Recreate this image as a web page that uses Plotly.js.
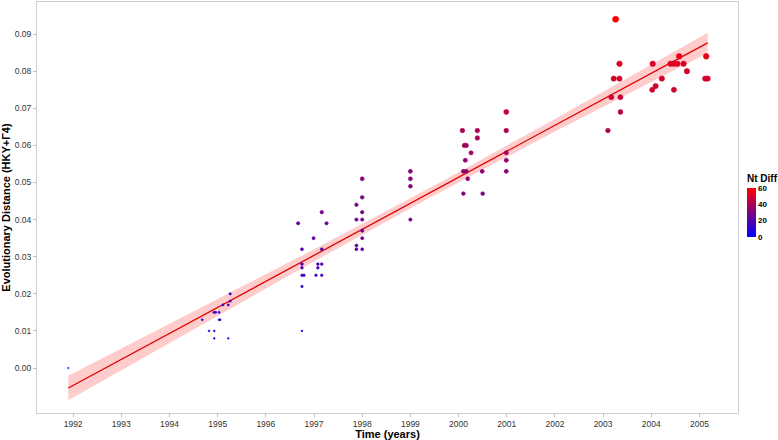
<!DOCTYPE html>
<html>
<head>
<meta charset="utf-8">
<script src="https://cdn.plot.ly/plotly-3.0.1.min.js"></script>
<style>html,body{margin:0;padding:0;background:#fff;}#chart{width:778px;height:440px;}</style>
</head>
<body>
<div id="chart"></div>
<script>
const years = [1991.90,
1994.68,1994.82,1994.92,1994.93,1994.93,1994.96,1995.03,1995.03,1995.05,1995.11,1995.22,1995.22,1995.26,1995.26,
1996.67,1996.75,1996.75,1996.75,1996.75,1996.79,1996.75,1996.75,
1996.99,1997.16,1997.26,1997.16,1997.08,1997.16,1997.08,1997.04,1997.16,
1997.88,1997.88,1997.88,1997.88,1998.00,1998.00,1998.00,1998.00,1998.00,1998.00,1998.00,
1999.00,1999.00,1999.00,1999.00,
2000.08,2000.39,2000.39,2000.12,2000.16,2000.26,2000.14,2000.10,2000.16,2000.49,2000.19,2000.10,2000.50,
2000.99,2000.99,2000.99,2000.99,2000.99,
2003.26,2003.34,2003.22,2003.34,2003.17,2003.36,2003.36,2003.10,
2004.03,2004.40,2004.47,2004.54,2004.67,2004.58,2004.74,2004.22,2004.09,2004.02,2004.47,2005.14,2005.12,2005.17];

const distance = [0.000,
0.013,0.010,0.015,0.010,0.008,0.015,0.015,0.013,0.013,0.017,0.017,0.008,0.018,0.020,
0.039,0.032,0.028,0.027,0.025,0.025,0.022,0.010,
0.035,0.042,0.039,0.032,0.028,0.028,0.027,0.025,0.025,
0.044,0.040,0.033,0.032,0.051,0.046,0.042,0.040,0.037,0.035,0.032,
0.053,0.051,0.049,0.040,
0.064,0.064,0.062,0.060,0.060,0.058,0.056,0.053,0.053,0.053,0.051,0.047,0.047,
0.069,0.064,0.058,0.056,0.053,
0.094,0.082,0.078,0.078,0.073,0.073,0.069,0.064,
0.082,0.082,0.082,0.082,0.082,0.084,0.080,0.078,0.076,0.075,0.075,0.084,0.078,0.078];

const ntDiff = [0,
8,6,10,6,5,10,10,8,8,11,11,5,12,13,
25,20,18,17,16,16,14,6,
22,27,25,20,18,18,17,16,16,
28,26,21,20,33,29,27,26,24,22,20,
34,33,31,26,
41,41,40,38,38,37,36,34,34,34,33,30,30,
46,41,37,36,34,
60,52,50,50,47,47,44,41,
52,52,52,52,52,54,51,50,49,48,48,54,50,50];

const xTickVals = [1992,1993,1994,1995,1996,1997,1998,1999,2000,2001,2002,2003,2004,2005];
const xTickText = ["1992","1993","1994","1995","1996","1997","1998","1999","2000","2001","2002","2003","2004","2005"];
const yTickVals = [0,0.01,0.02,0.03,0.04,0.05,0.06,0.07,0.08,0.09];
const yTickText = ["0.00","0.01","0.02","0.03","0.04","0.05","0.06","0.07","0.08","0.09"];
const cbTickVals = [0,20,40,60];
const cbTickText = ["0","20","40","60"];

// linear model fit (like geom_smooth(method = "lm")) with 95% confidence band
const n = years.length;
const xbar = years.reduce((a,b)=>a+b,0)/n;
const ybar = distance.reduce((a,b)=>a+b,0)/n;
let sxx=0, sxy=0;
for (let i=0;i<n;i++){ sxx += (years[i]-xbar)**2; sxy += (years[i]-xbar)*(distance[i]-ybar); }
const slope = sxy/sxx, icpt = ybar - slope*xbar;
let sse=0;
for (let i=0;i<n;i++){ sse += (distance[i]-(icpt+slope*years[i]))**2; }
const s = Math.sqrt(sse/(n-2));
const tq = 1.99;
const xmin = Math.min(...years), xmax = Math.max(...years);
const fx=[], fy=[], lo=[], hi=[];
for (let k=0;k<=80;k++){
  const x = xmin + (xmax-xmin)*k/80;
  const y = icpt + slope*x;
  const se = s*Math.sqrt(1/n + (x-xbar)**2/sxx);
  fx.push(x); fy.push(y); lo.push(y - tq*se); hi.push(y + tq*se);
}
const markerSize = ntDiff.map(v => 1.3 + v*0.08);
const cscale = [[0,'#0000ff'],[1,'#ff0000']];
const FONT = 'Liberation Sans, Arial, sans-serif';

const traces = [
  {x: fx, y: lo, mode:'lines', line:{width:0, color:'rgba(0,0,0,0)'}, hoverinfo:'skip', showlegend:false},
  {x: fx, y: hi, mode:'lines', line:{width:0, color:'rgba(0,0,0,0)'}, fill:'tonexty', fillcolor:'rgba(255,0,0,0.2)', hoverinfo:'skip', showlegend:false},
  {x: fx, y: fy, mode:'lines', line:{width:1.3, color:'#e00000'}, showlegend:false},
  {x: years, y: distance, mode:'markers', type:'scatter', showlegend:false,
   marker:{size: markerSize, color: ntDiff, cmin:0, cmax:60, opacity:1,
     colorscale: cscale,
     line:{width:0.6, color: ntDiff, cmin:0, cmax:60, colorscale: cscale},
     showscale:true,
     colorbar:{x:(747-37)/701, xanchor:'left', xpad:0, ypad:0,
       y:(413-237)/411, yanchor:'bottom', len:49, lenmode:'pixels', thickness:9, outlinewidth:0,
       tickvals:cbTickVals, ticktext:cbTickText, ticks:'', ticklen:0,
       tickfont:{family:FONT, size:8, color:'#000', weight:'bold'},
       title:{text:''}}}}
];

const layout = {
  width:778, height:440,
  margin:{l:37, r:40, t:2, b:27},
  paper_bgcolor:'#fff', plot_bgcolor:'#fff',
  showlegend:false,
  font:{family:FONT},
  xaxis:{range:[1991.25,2005.8], tickvals:xTickVals, ticktext:xTickText, showgrid:false, zeroline:false,
    showline:true, linecolor:'#cfcfcf', linewidth:1, mirror:true,
    ticks:'outside', ticklen:3, tickcolor:'#bdbdbd', tickwidth:1,
    tickfont:{size:8.5, color:'#333'},
    title:{text:'<b>Time (years)</b>', font:{size:11, color:'#000'}, standoff:4}},
  yaxis:{range:[-0.01213,0.09865], tickvals:yTickVals, ticktext:yTickText, showgrid:false, zeroline:false,
    showline:true, linecolor:'#cfcfcf', linewidth:1, mirror:true,
    ticks:'outside', ticklen:3, tickcolor:'#bdbdbd', tickwidth:1,
    tickfont:{size:8.5, color:'#333'},
    title:{text:'<b>Evolutionary Distance (HKY+Γ4)</b>', font:{size:11, color:'#000'}, standoff:6}},
  annotations:[{text:'<b>Nt Diff</b>', xref:'paper', yref:'paper', x:(745-37)/701, xanchor:'left',
    y:(413-186)/411, yanchor:'bottom', showarrow:false, font:{family:FONT, size:10, color:'#000'}}]
};

Plotly.newPlot('chart', traces, layout, {displayModeBar:false, staticPlot:true});
</script>
</body>
</html>
